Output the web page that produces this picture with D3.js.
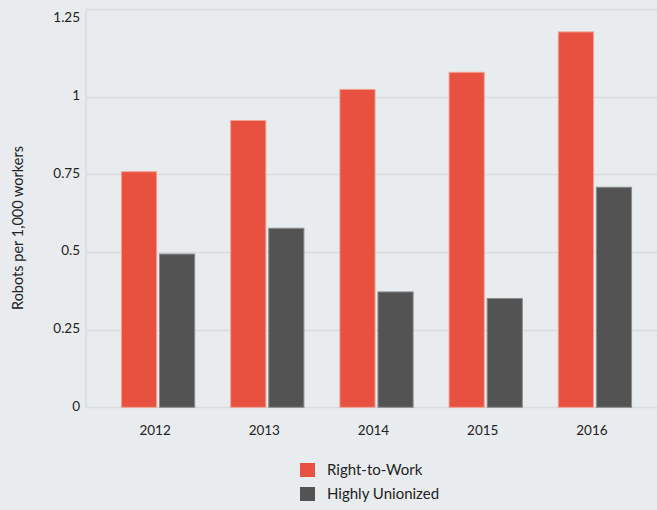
<!DOCTYPE html>
<html>
<head>
<meta charset="utf-8">
<script src="https://cdn.jsdelivr.net/npm/d3@7/dist/d3.min.js"></script>
<style>
  html, body { margin: 0; padding: 0; background: #e9ecee; }
  svg { display: block; }
  text { font-family: Lato, "Open Sans", sans-serif; fill: #222; }
</style>
</head>
<body>
<script>
// Robot density by year, right-to-work vs. highly unionized states
const years = ["2012", "2013", "2014", "2015", "2016"];
const seriesNames = ["Right-to-Work", "Highly Unionized"];
const rightToWork = [0.76, 0.925, 1.025, 1.08, 1.21];
const highlyUnionized = [0.495, 0.578, 0.373, 0.352, 0.71];
const yTicks = [0, 0.25, 0.5, 0.75, 1, 1.25];
const yTickLabels = ["0", "0.25", "0.5", "0.75", "1", "1.25"];
const seriesColors = ["#e8503f", "#525352"];
const seriesStrokes = ["#f3a190", "#8c8d8d"];

const W = 657, H = 510;
const svg = d3.select("body").append("svg").attr("width", W).attr("height", H);
svg.append("rect").attr("width", W).attr("height", H).attr("fill", "#e9ecee");

const plotLeft = 86, plotTop = 9.5, plotBottom = 407.3;

const y = d3.scaleLinear().domain([0, 1.25]).range([plotBottom, 19]);
const x0 = d3.scaleBand().domain(years).range([plotLeft, 667])
  .paddingInner(0.32).paddingOuter(0.32);
const x1 = d3.scaleBand().domain(seriesNames).range([0, x0.bandwidth()]).paddingInner(0.05);

// gridlines (the 1.25 level is left undrawn beneath the top frame line)
const grid = svg.append("g");
grid.selectAll("line").data(yTicks.filter(t => t < 1.25)).join("line")
  .attr("x1", plotLeft).attr("x2", W)
  .attr("y1", d => Math.round(y(d)) + 0.5).attr("y2", d => Math.round(y(d)) + 0.5)
  .attr("stroke", "#d8dcde").attr("stroke-width", 1.5);
// frame: top and left
svg.append("line").attr("x1", plotLeft).attr("x2", W).attr("y1", plotTop).attr("y2", plotTop)
  .attr("stroke", "#d8dcde").attr("stroke-width", 1.5);
svg.append("line").attr("x1", plotLeft).attr("x2", plotLeft).attr("y1", plotTop).attr("y2", plotBottom)
  .attr("stroke", "#d8dcde").attr("stroke-width", 1.5);

// y axis labels
const yAxis = d3.axisLeft(y).tickValues(yTicks).tickSize(0).tickPadding(6)
  .tickFormat((d, i) => yTickLabels[i]);
const gy = svg.append("g").attr("transform", `translate(${plotLeft},0)`).call(yAxis);
gy.select(".domain").remove();
gy.selectAll("text").attr("font-size", 13.5).attr("dy", "0.2em")
  .style("font-family", "Lato, sans-serif").attr("fill", "#222");

// x axis labels
const xAxis = d3.axisBottom(x0).tickSize(0).tickPadding(0);
const gx = svg.append("g").attr("transform", `translate(-3,${plotBottom + 18})`).call(xAxis);
gx.select(".domain").remove();
gx.selectAll("text").attr("font-size", 13.5).style("font-family", "Lato, sans-serif").attr("fill", "#222");

// bars
const values = [rightToWork, highlyUnionized];
const groups = svg.append("g").selectAll("g").data(years).join("g")
  .attr("transform", d => `translate(${x0(d)},0)`);
groups.selectAll("rect").data((d, i) => seriesNames.map((s, k) => ({ s, k, v: values[k][i] })))
  .join("rect")
  .attr("x", d => x1(d.s) + 0.5)
  .attr("width", x1.bandwidth() - 1)
  .attr("y", d => y(d.v) + 0.5)
  .attr("height", d => plotBottom - y(d.v) - 0.5)
  .attr("fill", d => seriesColors[d.k])
  .attr("stroke", d => seriesStrokes[d.k])
  .attr("stroke-width", 1);

// y axis title
svg.append("text")
  .attr("transform", `translate(23,${228}) rotate(-90)`)
  .attr("text-anchor", "middle")
  .attr("font-size", 14.5)
  .text("Robots per 1,000 workers");

// legend
const legend = svg.append("g").attr("transform", "translate(300,463)");
const li = legend.selectAll("g").data(seriesNames).join("g")
  .attr("transform", (d, i) => `translate(0,${i * 24})`);
li.append("rect").attr("width", 15).attr("height", 14).attr("fill", (d, i) => seriesColors[i]);
li.append("text").attr("x", 27).attr("y", 7).attr("dy", "0.35em")
  .attr("font-size", 15).text(d => d);
</script>
</body>
</html>
